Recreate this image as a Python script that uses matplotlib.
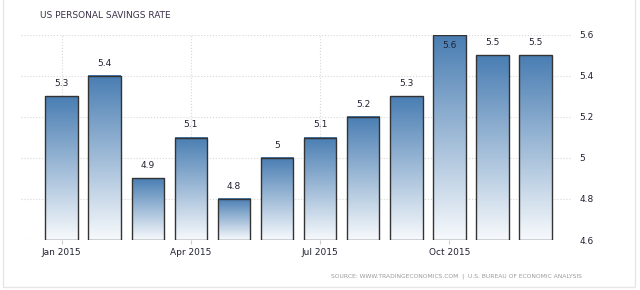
import matplotlib
matplotlib.use('Agg')
import matplotlib.pyplot as plt
import numpy as np

months = ['Jan 2015', 'Feb 2015', 'Mar 2015', 'Apr 2015', 'May 2015', 'Jun 2015',
          'Jul 2015', 'Aug 2015', 'Sep 2015', 'Oct 2015', 'Nov 2015', 'Dec 2015']
rates = [5.3, 5.4, 4.9, 5.1, 4.8, 5.0, 5.1, 5.2, 5.3, 5.6, 5.5, 5.5]
labels = ['5.3', '5.4', '4.9', '5.1', '4.8', '5', '5.1', '5.2', '5.3', '5.6', '5.5', '5.5']
yticks = [4.6, 4.8, 5.0, 5.2, 5.4, 5.6]
ytick_labels = ['4.6', '4.8', '5', '5.2', '5.4', '5.6']
xtick_idx = [0, 3, 6, 9]

fig = plt.figure(figsize=(6.4, 2.9), dpi=100)
ax = fig.add_axes([21 / 640, 1 - 240 / 290, 550 / 640, 205 / 290])

ymin, ymax = 4.6, 5.6
w = 0.75

# gradiente vertical: azul arriba, casi blanco abajo
grad = np.linspace(0, 1, 100).reshape(-1, 1)
cmap = matplotlib.colors.LinearSegmentedColormap.from_list('tb', ['#f6f9fc', '#4a7eb3'])

for i, v in enumerate(rates):
    ax.imshow(grad, cmap=cmap, origin='lower', aspect='auto',
              extent=(i - w / 2, i + w / 2, ymin, v), zorder=2)
    ax.add_patch(plt.Rectangle((i - w / 2, ymin), w, v - ymin, fill=False,
                               edgecolor='#333333', linewidth=1.0, zorder=3))
    if v >= ymax - 0.01:
        ax.text(i, v - 0.03, labels[i], ha='center', va='top', fontsize=6.5,
                color='#222233', zorder=4)
    else:
        ax.text(i, v + 0.04, labels[i], ha='center', va='bottom', fontsize=6.5,
                color='#222233', zorder=4)

ax.set_xlim(-0.94, 11.82)
ax.set_ylim(ymin, ymax)
ax.yaxis.tick_right()
ax.set_yticks(yticks)
ax.set_yticklabels(ytick_labels, fontsize=6.5, color='#222233')
ax.set_xticks(xtick_idx)
ax.set_xticklabels([months[i] for i in xtick_idx], fontsize=6.5, color='#222233')
ax.tick_params(axis='y', length=0, pad=6)
ax.tick_params(axis='x', length=3, color='#cccccc', pad=3)
ax.grid(True, color='#d8d8d8', linestyle=':', linewidth=0.8, zorder=0)
ax.set_axisbelow(True)
for s in ax.spines.values():
    s.set_visible(False)

fig.text(40 / 640, 1 - 15 / 290, 'US PERSONAL SAVINGS RATE', fontsize=6.5,
         color='#3a3048', va='center', ha='left')
fig.text(582 / 640, 1 - 276 / 290,
         'SOURCE: WWW.TRADINGECONOMICS.COM  |  U.S. BUREAU OF ECONOMIC ANALYSIS',
         fontsize=4.3, color='#999999', va='center', ha='right')

# marco gris claro alrededor
fig.add_artist(plt.Rectangle((3 / 640, 3 / 290), 632 / 640, 290 / 290, fill=False,
                             edgecolor='#e6e6e6', linewidth=1.0, transform=fig.transFigure))

fig.savefig('out.png', dpi=100)
